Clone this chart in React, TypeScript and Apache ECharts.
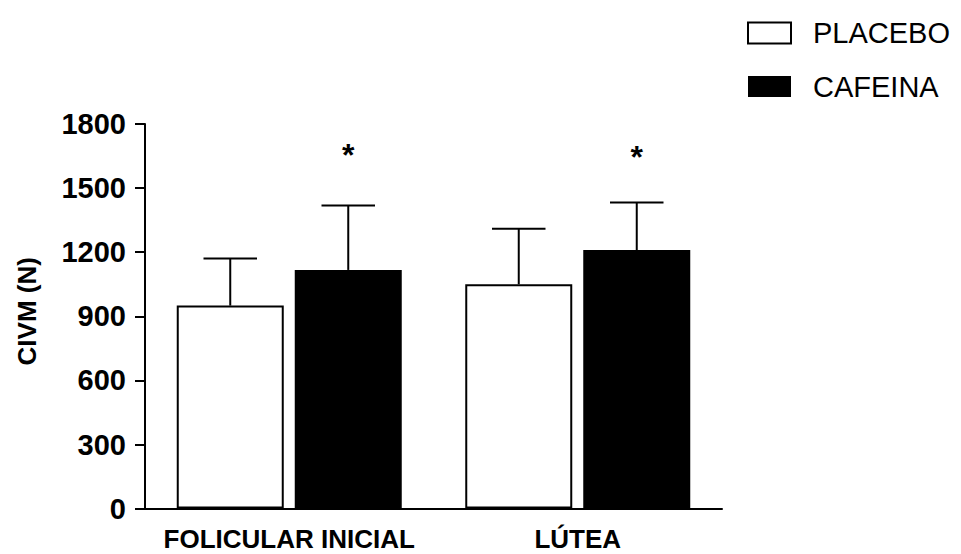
import React, { useEffect, useRef } from 'react';
import * as echarts from 'echarts';

const categories = ['FOLICULAR INICIAL', 'LÚTEA'];
const seriesNames = ['PLACEBO', 'CAFEINA'];
const placeboMean = [950, 1050];
const placeboSD = [221, 260];
const cafeinaMean = [1117, 1210];
const cafeinaSD = [302, 223];
const starLevel = [1678, 1668];
const yMin = 0;
const yMax = 1800;
const yStep = 300;

const FONT = '"Liberation Sans", Arial, Helvetica, sans-serif';
const BAR_W = 107;
const BAR_GAP = 11;

function errorRender(sign: number) {
  return (params: any, api: any) => {
    const cat = api.value(0);
    const mean = api.value(1);
    const top = api.value(2);
    const base = api.coord([cat, mean]);
    const hi = api.coord([cat, top]);
    const x = base[0] + (sign * (BAR_W + BAR_GAP)) / 2;
    const cap = BAR_W / 4;
    return {
      type: 'group',
      children: [
        { type: 'line', shape: { x1: x, y1: base[1], x2: x, y2: hi[1] }, style: { stroke: '#000', lineWidth: 2 } },
        { type: 'line', shape: { x1: x - cap, y1: hi[1], x2: x + cap, y2: hi[1] }, style: { stroke: '#000', lineWidth: 2 } },
      ],
    };
  };
}

function starRender(params: any, api: any) {
  const cat = api.value(0);
  const lvl = api.value(1);
  const p = api.coord([cat, lvl]);
  const x = p[0] + (BAR_W + BAR_GAP) / 2;
  return {
    type: 'text',
    x,
    y: p[1] + 5,
    style: {
      text: '*',
      fill: '#000',
      font: `bold 32px ${FONT}`,
      textAlign: 'center',
      textVerticalAlign: 'middle',
    },
  };
}

export default function App() {
  const ref = useRef<HTMLDivElement>(null);
  useEffect(() => {
    if (!ref.current) return;
    const chart = echarts.init(ref.current, undefined, { renderer: 'svg' });
    const option: any = {
      animation: false,
      backgroundColor: '#fff',
      textStyle: { fontFamily: FONT },
      grid: { left: 145, right: 239, top: 124, bottom: 45.4, containLabel: false, outerBoundsMode: 'none' },
      legend: {
        data: seriesNames,
        orient: 'vertical',
        left: 747,
        top: 18.5,
        padding: 0,
        itemWidth: 43,
        itemHeight: 21,
        itemGap: 24.5,
        icon: 'rect',
        selectedMode: false,
        textStyle: { fontSize: 29, color: '#000', fontFamily: FONT, padding: [0, 0, 0, 17], lineHeight: 28 },
      },
      xAxis: {
        type: 'category',
        data: categories,
        axisLine: { lineStyle: { color: '#000', width: 2 } },
        axisTick: { alignWithLabel: true, length: 10, lineStyle: { color: '#000', width: 2 } },
        axisLabel: { fontSize: 26, fontWeight: 'bold', color: '#000', margin: 17, fontFamily: FONT, interval: 0 },
        splitLine: { show: false },
      },
      yAxis: {
        type: 'value',
        min: yMin,
        max: yMax,
        interval: yStep,
        name: 'CIVM (N)',
        nameLocation: 'middle',
        nameGap: 105,
        nameTextStyle: { fontSize: 26, fontWeight: 'bold', color: '#000', fontFamily: FONT, padding: [0, 0, 0, 10] },
        axisLine: { show: true, lineStyle: { color: '#000', width: 2 } },
        axisTick: { show: true, length: 10, lineStyle: { color: '#000', width: 2 } },
        axisLabel: {
          fontSize: 29,
          fontWeight: 'bold',
          color: '#000',
          margin: 19,
          fontFamily: FONT,
          formatter: (v: number) => String(v),
        },
        splitLine: { show: false },
      },
      series: [
        {
          name: seriesNames[0],
          type: 'bar',
          data: placeboMean,
          barWidth: BAR_W,
          barGap: `${(BAR_GAP / BAR_W) * 100}%`,
          itemStyle: { color: '#fff', borderColor: '#000', borderWidth: 2 },
          z: 2,
        },
        {
          name: seriesNames[1],
          type: 'bar',
          data: cafeinaMean,
          barWidth: BAR_W,
          barGap: `${(BAR_GAP / BAR_W) * 100}%`,
          itemStyle: { color: '#000', borderColor: '#000', borderWidth: 0 },
          z: 2,
        },
        {
          type: 'custom',
          renderItem: errorRender(-1),
          data: placeboMean.map((m, i) => [i, m, m + placeboSD[i]]),
          encode: { x: 0, y: [1, 2] },
          z: 3,
          silent: true,
        },
        {
          type: 'custom',
          renderItem: errorRender(1),
          data: cafeinaMean.map((m, i) => [i, m, m + cafeinaSD[i]]),
          encode: { x: 0, y: [1, 2] },
          z: 3,
          silent: true,
        },
        {
          type: 'custom',
          renderItem: starRender,
          data: starLevel.map((v, i) => [i, v]),
          encode: { x: 0, y: 1 },
          z: 3,
          silent: true,
        },
      ],
    };
    chart.setOption(option);
    return () => chart.dispose();
  }, []);
  return (
    <div
      ref={ref}
      style={{ position: 'fixed', left: 0, top: 0, width: 961, height: 554, background: '#fff' }}
    />
  );
}
